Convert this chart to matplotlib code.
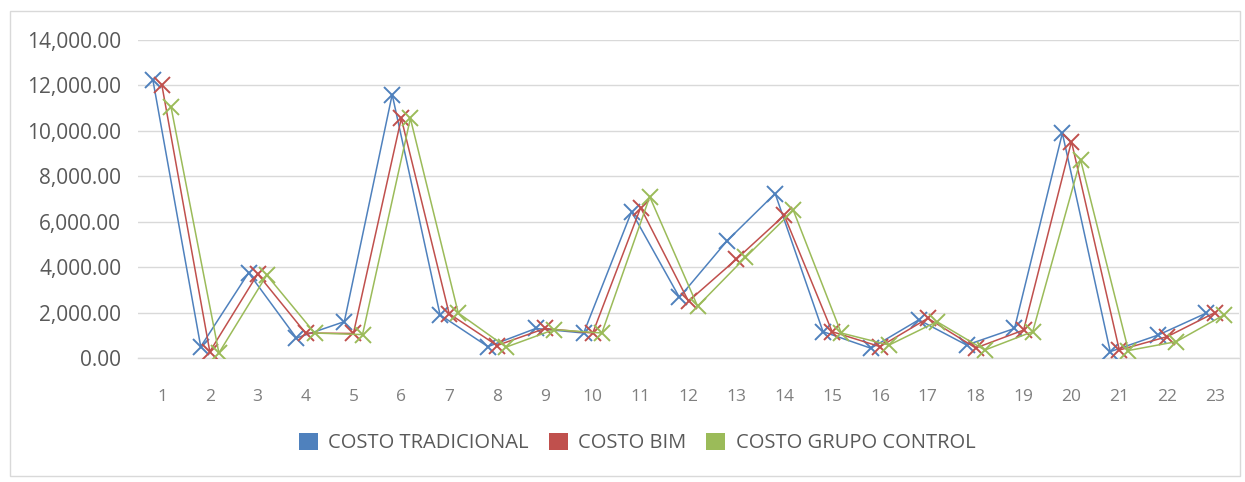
import matplotlib
matplotlib.use("Agg")
import matplotlib.pyplot as plt
from matplotlib.patches import Rectangle
from matplotlib.ticker import FuncFormatter

plt.rcParams['font.family'] = ['Open Sans', 'DejaVu Sans']

# Items 1..23
categories = list(range(1, 24))

costo_tradicional = [12250, 500, 3750, 880, 1600, 11600, 1900, 500, 1300, 1100,
                     6440, 2670, 5170, 7240, 1160, 430, 1680, 570, 1300, 9900,
                     280, 1010, 1970]
costo_bim = [12000, 280, 3700, 1100, 1080, 10550, 1950, 550, 1300, 1100,
             6620, 2500, 4350, 6280, 1160, 500, 1750, 440, 1230, 9530,
             350, 940, 2000]
costo_grupo_control = [11050, 220, 3650, 1100, 1030, 10550, 1980, 480, 1250, 1100,
                       7100, 2280, 4430, 6500, 1100, 570, 1600, 350, 1160, 8730,
                       330, 720, 1900]

series_names = ["COSTO TRADICIONAL", "COSTO BIM", "COSTO GRUPO CONTROL"]
series_values = [costo_tradicional, costo_bim, costo_grupo_control]
series_colors = ["#4F81BD", "#C0504D", "#9BBB59"]
series_shift = [-0.19, 0.0, 0.19]

y_ticks = list(range(0, 14001, 2000))

fig = plt.figure(figsize=(12.45, 4.82), dpi=100)
fig.patch.set_facecolor("white")

# chart-area frame
fig.patches.append(Rectangle((10 / 1245, 1 - 476 / 482), 1230 / 1245, 465 / 482,
                             transform=fig.transFigure, fill=False,
                             edgecolor="#D9D9D9", linewidth=1.0))

ax = fig.add_axes([138 / 1245, 1 - 358 / 482, 1101 / 1245, 318 / 482])

for name, vals, col, dx in zip(series_names, series_values, series_colors, series_shift):
    xs = [c + dx for c in categories]
    ax.plot(xs, vals, color=col, linewidth=1.1, marker="x", markersize=11,
            markeredgewidth=1.4, label=name, zorder=3)

ax.set_xlim(0.5, 23.5)
ax.set_ylim(0, 14000)
ax.set_yticks(y_ticks)
ax.yaxis.set_major_formatter(FuncFormatter(lambda v, p: f"{v:,.2f}"))
ax.set_xticks(categories)
ax.set_xticklabels([str(c) for c in categories])

ax.grid(axis="y", color="#D9D9D9", linewidth=1.0)
ax.set_axisbelow(True)
for side in ["top", "right", "left"]:
    ax.spines[side].set_visible(False)
ax.spines["bottom"].set_color("#D9D9D9")
ax.spines["bottom"].set_linewidth(1.0)

ax.tick_params(axis="y", length=0, pad=12, labelsize=15, labelcolor="#595959")
ax.tick_params(axis="x", length=0, pad=22, labelsize=12.5, labelcolor="#7F7F7F")

handles = [Rectangle((0, 0), 1, 1, facecolor=c, edgecolor="none") for c in series_colors]
leg = fig.legend(handles, series_names, loc="center", bbox_to_anchor=(637 / 1245, 1 - 443 / 482),
                 ncol=3, frameon=False, fontsize=14.5, handlelength=0.95, handleheight=0.95,
                 handletextpad=0.5, columnspacing=1.0)
for t in leg.get_texts():
    t.set_color("#595959")

fig.savefig("out.png", dpi=100, facecolor="white")
